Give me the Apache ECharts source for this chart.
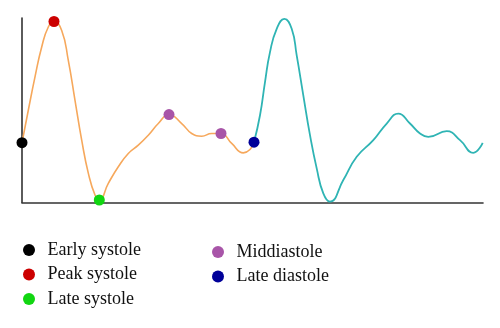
<!DOCTYPE html>
<html>
<head>
<meta charset="utf-8">
<script src="https://cdn.jsdelivr.net/npm/echarts@6/dist/echarts.min.js"></script>
<style>
  html, body { margin: 0; padding: 0; background: #ffffff; }
  #chart { width: 500px; height: 328px; }
</style>
</head>
<body>
<div id="chart"></div>
<script>
// Pressure waveform across one cardiac cycle (arbitrary units)
const systoleX = [0, 6.3, 13, 19.7, 26.3, 32, 39.7, 46.3, 53, 59.7, 66.3, 73, 77.3,
  86.3, 96.3, 106.3, 116.3, 126.3, 136.3, 147, 159.7, 169.7, 179.7, 189.7, 199, 209.7, 221.3, 228, 232];
const systoleY = [60, 92.5, 126, 156, 176, 181.5, 172.5, 142.5, 102.5, 62.5, 29.5, 7.5, 2.5,
  19.2, 35.8, 49.2, 57.5, 67.5, 79.2, 88.2, 79.2, 69.2, 66.5, 69.2, 69.2, 59.2, 49.8, 53.2, 60.5];

const diastoleX = [232, 238, 243, 248, 254.7, 262.3, 269.7, 274.7, 281.3, 288, 294.7, 301.3, 308,
  321.3, 334.7, 351.3, 364.7, 376.3, 388, 398, 406.3, 424.7, 438, 451.3, 460.7];
const diastoleY = [60.5, 87.5, 120.8, 150.8, 174.2, 184.2, 174.2, 147.5, 107.5, 67.5, 34.2, 9.2, 0.8,
  22.5, 45.8, 62.5, 79.2, 89.2, 79.2, 69.2, 65.8, 71.5, 62.5, 49.8, 59.8];

// Marked phases: name, colour, indices into the systole arrays
const phaseNames = ['Early systole', 'Peak systole', 'Late systole', 'Middiastole', 'Late diastole'];
const phaseColors = ['#000000', '#cc0000', '#11d611', '#a855a8', '#000099'];
const phaseIndex = [[0], [5], [12], [19, 24], [28]];

const pairs = (xs, ys) => xs.map((x, i) => [x, ys[i]]);

const lineSeries = [
  {
    type: 'line', data: pairs(systoleX, systoleY), smooth: 0.5, symbol: 'none',
    lineStyle: { color: '#f6a85c', width: 1.6 }, z: 2, silent: true
  },
  {
    type: 'line', data: pairs(diastoleX, diastoleY), smooth: 0.5, symbol: 'none',
    lineStyle: { color: '#2fb4b4', width: 1.8 }, z: 2, silent: true
  }
];

const pointSeries = phaseNames.map((name, k) => ({
  name: name,
  type: 'scatter',
  symbol: 'circle',
  symbolSize: 11,
  itemStyle: { color: phaseColors[k], opacity: 1 },
  data: phaseIndex[k].map(i => [systoleX[i], systoleY[i]]),
  z: 5
}));

// Wide icon box leaves room between the dot and its label
const legendBase = {
  orient: 'vertical', padding: 0, icon: 'circle',
  itemWidth: 27, itemHeight: 12, itemGap: 6.5, itemStyle: { opacity: 1 },
  textStyle: { fontFamily: 'Liberation Serif', fontSize: 18, color: '#111' },
  selectedMode: false
};

const chart = echarts.init(document.getElementById('chart'), null, { renderer: 'canvas' });
chart.setOption({
  animation: false,
  backgroundColor: '#ffffff',
  grid: { left: 22, right: 17, top: 18, bottom: 125.5 },
  xAxis: {
    type: 'value', min: 0, max: 461,
    axisLine: { show: true, lineStyle: { color: '#333', width: 1.6 } },
    axisTick: { show: false }, axisLabel: { show: false }, splitLine: { show: false }
  },
  yAxis: {
    type: 'value', min: 0, max: 185,
    axisLine: { show: true, lineStyle: { color: '#333', width: 1.6 } },
    axisTick: { show: false }, axisLabel: { show: false }, splitLine: { show: false }
  },
  legend: [
    Object.assign({}, legendBase, { data: phaseNames.slice(0, 3), left: 23, top: 241 }),
    Object.assign({}, legendBase, { data: phaseNames.slice(3), left: 212, top: 243 })
  ],
  series: lineSeries.concat(pointSeries)
});
</script>
</body>
</html>
